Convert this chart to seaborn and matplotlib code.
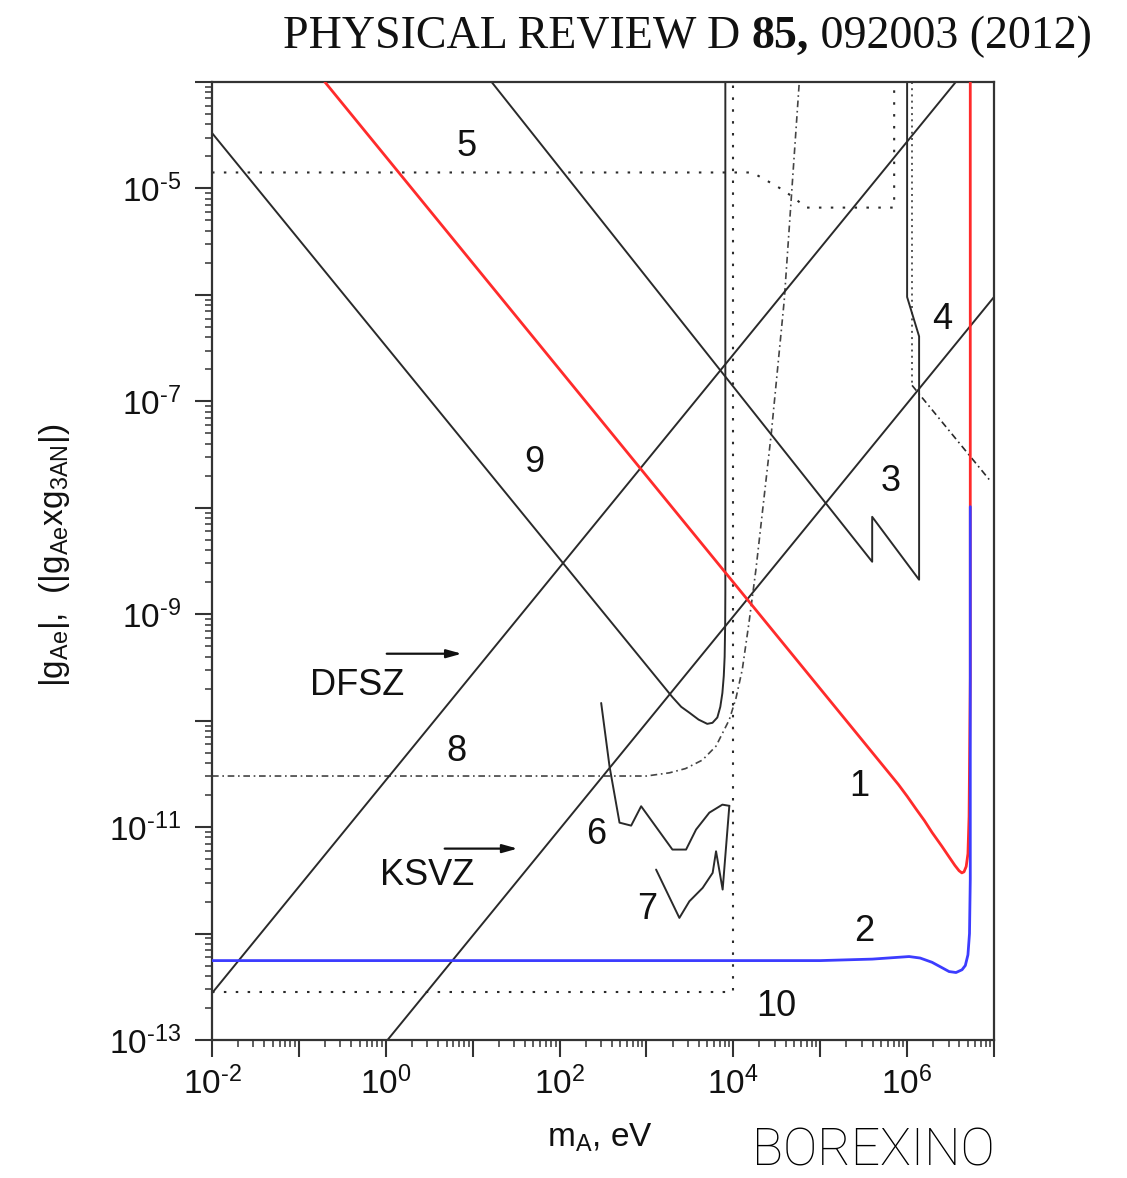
import numpy as np
import pandas as pd
import matplotlib
matplotlib.use("Agg")
import matplotlib.pyplot as plt
import seaborn as sns
from matplotlib.ticker import LogLocator, FuncFormatter, NullFormatter

sns.set_style("ticks")
plt.rcParams['font.family'] = ['Liberation Sans', 'DejaVu Sans']
plt.rcParams['mathtext.default'] = 'regular'
plt.rcParams['axes.unicode_minus'] = False

# All curves as log10(m_A / eV) and log10(|g|)
c1_lm = [-0.701, 5.90, 6.00, 6.103, 6.20, 6.287, 6.40, 6.483, 6.55, 6.598, 6.63, 6.655,
         6.68, 6.70, 6.713, 6.727, 6.727]
c1_lg = [-4.00, -10.60, -10.71, -10.83, -10.94, -11.05, -11.18, -11.28, -11.36, -11.41,
         -11.43, -11.42, -11.37, -11.25, -10.90, -9.60, -4.00]

c2_lm = [-2.0, 5.0, 5.6, 6.023, 6.15, 6.287, 6.40, 6.483, 6.563, 6.632, 6.67, 6.700, 6.718,
         6.727, 6.727]
c2_lg = [-12.254, -12.254, -12.24, -12.216, -12.23, -12.27, -12.32, -12.357, -12.366, -12.34,
         -12.30, -12.20, -12.00, -11.49, -7.99]

# curve 3 with the vertical edge that continues as curve 4
c34_lm = [1.218, 5.598, 5.598, 6.138, 6.138, 6.0, 6.0]
c34_lg = [-4.00, -8.507, -8.085, -8.676, -6.39, -6.02, -4.00]

c4_dot_lm = [6.057, 6.057]
c4_dot_lg = [-4.00, -6.85]
c4_dd_lm = [6.057, 6.966]
c4_dd_lg = [-6.85, -7.756]

c5_lm = [-2.0, 4.218, 4.414, 4.563, 4.701, 4.839, 5.851, 5.851]
c5_lg = [-4.85, -4.85, -4.94, -5.01, -5.09, -5.18, -5.18, -4.00]

c6_lm = [2.479, 2.575, 2.690, 2.824, 2.939, 3.299, 3.456, 3.571, 3.724, 3.874, 3.954]
c6_lg = [-9.834, -10.429, -10.958, -10.986, -10.804, -11.211, -11.211, -11.023, -10.864,
         -10.789, -10.80]

c7_lm = [3.111, 3.379, 3.494, 3.647, 3.762, 3.801, 3.877, 3.954]
c7_lg = [-11.399, -11.853, -11.697, -11.571, -11.430, -11.227, -11.587, -10.80]

c8_lm = [-2.0, 3.0, 3.264, 3.45, 3.644, 3.80, 3.954, 4.03, 4.103, 4.18, 4.26, 4.437, 4.586,
         4.759]
c8_lg = [-10.52, -10.52, -10.49, -10.45, -10.37, -10.24, -9.99, -9.79, -9.52, -9.08, -8.58,
         -7.30, -6.05, -4.00]

c9_lm = [-2.0, 3.30, 3.40, 3.494, 3.60, 3.70, 3.76, 3.816, 3.85, 3.874, 3.89, 3.900, 3.906,
         3.908, 3.908]
c9_lg = [-4.479, -9.78, -9.87, -9.925, -9.99, -10.03, -10.02, -9.97, -9.87, -9.74, -9.58,
         -9.40, -9.10, -8.80, -4.00]

c10_lm = [-2.0, 4.0, 4.0]
c10_lg = [-12.545, -12.545, -4.00]

dfsz_lm = [-2.0, 6.56]
dfsz_lg = [-12.56, -4.00]

ksvz_lm = [0.02, 7.0]
ksvz_lg = [-13.00, -6.02]

# curve labels: text, log10 m, log10 g
labels_txt = ['1', '2', '3', '4', '5', '6', '7', '8', '9', '10']
labels_lm = [5.448, 5.506, 5.816, 6.402, 0.931, 2.425, 3.011, 0.816, 1.713, 4.494]
labels_lg = [-10.62, -11.98, -7.756, -6.235, -4.61, -11.07, -11.775, -10.29, -7.577, -12.685]

model_txt = ['DFSZ', 'KSVZ']
model_lm = [-0.333, 0.471]
model_lg = [-9.671, -11.455]
arrow_from_lm = [0.011, 0.678]
arrow_to_lm = [0.874, 1.517]
arrow_lg = [-9.371, -11.202]

W, H = 1127, 1178
fig = plt.figure(figsize=(W / 100, H / 100), dpi=100)
ax = fig.add_axes([212 / W, 1 - 1040 / H, (994 - 212) / W, (1040 - 82) / H])

BLACK = '#2a2a2a'


def draw(lm, lg, color=BLACK, lw=1.4, ls='-', z=2):
    df = pd.DataFrame({'m': np.power(10.0, lm), 'g': np.power(10.0, lg)})
    sns.lineplot(data=df, x='m', y='g', sort=False, estimator=None, ax=ax,
                 color=color, linewidth=lw, linestyle=ls, zorder=z)


dotted = (0, (1.2, 4.5))
dense_dot = (0, (1.0, 2.2))
dashdot = (0, (4.0, 2.2, 1.0, 2.2))

draw(c10_lm, c10_lg, ls=dotted, lw=1.5)
draw(c5_lm, c5_lg, ls=dotted, lw=1.5)
draw(c8_lm, c8_lg, ls=dashdot, lw=1.2, color='#444444')
draw(c4_dot_lm, c4_dot_lg, ls=dense_dot, lw=1.4, color='#555555')
draw(c4_dd_lm, c4_dd_lg, ls=dashdot, lw=1.2)
draw(c9_lm, c9_lg)
draw(c34_lm, c34_lg)
draw(c6_lm, c6_lg)
draw(c7_lm, c7_lg)
draw(dfsz_lm, dfsz_lg)
draw(ksvz_lm, ksvz_lg)
draw(c1_lm, c1_lg, color='#ff2b2b', lw=2.0, z=3)
draw(c2_lm, c2_lg, color='#3c3cff', lw=2.0, z=4)

ax.set_xscale('log')
ax.set_yscale('log')
ax.set_xlim(1e-2, 1e7)
ax.set_ylim(1e-13, 1e-4)
ax.set_xlabel('')
ax.set_ylabel('')

for s in ax.spines.values():
    s.set_visible(True)
    s.set_linewidth(1.6)
    s.set_color('#333333')

ax.xaxis.set_major_locator(LogLocator(base=10, numticks=30))
ax.yaxis.set_major_locator(LogLocator(base=10, numticks=30))
ax.xaxis.set_minor_locator(LogLocator(base=10, subs=np.arange(2, 10), numticks=100))
ax.yaxis.set_minor_locator(LogLocator(base=10, subs=np.arange(2, 10), numticks=100))


def power_label(e):
    sign = '\u2010' if e < 0 else ''
    return f'$10^{{{sign}{abs(e)}}}$'


def fmt_even(v, p):
    e = int(round(np.log10(v)))
    return power_label(e) if e % 2 == 0 else ''


def fmt_odd(v, p):
    e = int(round(np.log10(v)))
    return power_label(e) if e % 2 != 0 else ''


ax.xaxis.set_major_formatter(FuncFormatter(fmt_even))
ax.yaxis.set_major_formatter(FuncFormatter(fmt_odd))
ax.xaxis.set_minor_formatter(NullFormatter())
ax.yaxis.set_minor_formatter(NullFormatter())
ax.tick_params(which='both', direction='out', top=False, right=False,
               color='#333333', labelsize=24, labelcolor='#111111')
ax.tick_params(which='major', length=12, width=1.5, pad=7)
ax.tick_params(axis='y', which='major', pad=10)
ax.tick_params(which='minor', length=5, width=1.1)

for t, lm, lg in zip(labels_txt, labels_lm, labels_lg):
    ax.text(10 ** lm, 10 ** lg, t, fontsize=26, ha='center', va='center', color='#111111')

for t, lm, lg in zip(model_txt, model_lm, model_lg):
    ax.text(10 ** lm, 10 ** lg, t, fontsize=26, ha='center', va='center', color='#111111')

for a, b, lg in zip(arrow_from_lm, arrow_to_lm, arrow_lg):
    ax.annotate('', xy=(10 ** b, 10 ** lg), xytext=(10 ** a, 10 ** lg),
                arrowprops=dict(arrowstyle='-|>,head_length=0.9,head_width=0.25',
                                color='#111111', lw=1.6, shrinkA=0, shrinkB=0))

fig.text(600 / W, 1 - 1138 / H, r'm$_{A}$, eV', fontsize=24, ha='center', va='center',
         color='#111111')
fig.text(55 / W, 1 - 555 / H, r'|g$_{Ae}$|,  (|g$_{Ae}$xg$_{3AN}$|)', fontsize=24,
         rotation=90, ha='center', va='center', color='#111111')

# running journal header, with the volume number in bold
fig.canvas.draw()
renderer = fig.canvas.get_renderer()
x0 = 283 / W
yb = 1 - 48 / H
pieces = [('PHYSICAL REVIEW D ', 'normal'), ('85,', 'bold'), (' 092003 (2012)', 'normal')]
for txt, wt in pieces:
    t = fig.text(x0, yb, txt, family=['Liberation Serif', 'DejaVu Serif'], fontsize=33,
                 weight=wt, ha='left', va='baseline', color='#111111')
    bb = t.get_window_extent(renderer=renderer)
    x0 += bb.width / W

fig.text(752 / W, 1 - 1166 / H, 'BOREXINO', family=['Roboto', 'DejaVu Sans'],
         weight='light', fontsize=37, ha='left', va='baseline', color='black')

fig.savefig('out.png', dpi=100)
